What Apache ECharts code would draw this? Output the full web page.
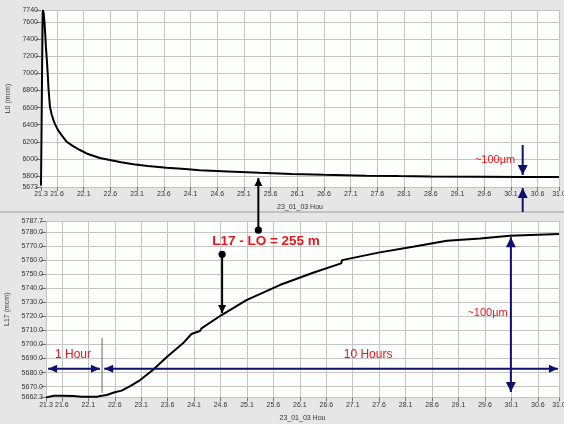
<!DOCTYPE html>
<html>
<head>
<meta charset="utf-8">
<script src="https://cdn.jsdelivr.net/npm/echarts@6/dist/echarts.min.js"></script>
<style>html,body{margin:0;padding:0;background:#e6e6e6;}#c{width:564px;height:424px;}</style>
</head>
<body>
<div id="c"></div>
<script>
// ---- data ----
const hourTicks = [21.3, 21.6, 22.1, 22.6, 23.1, 23.6, 24.1, 24.6, 25.1, 25.6, 26.1, 26.6, 27.1, 27.6, 28.1, 28.6, 29.1, 29.6, 30.1, 30.6, 31.0];
const l0Ticks = [5673, 5800, 6000, 6200, 6400, 6600, 6800, 7000, 7200, 7400, 7600, 7740];
const l17Ticks = [5662.3, 5670, 5680, 5690, 5700, 5710, 5720, 5730, 5740, 5750, 5760, 5770, 5780, 5787.7];

const l0Hours = [21.30, 21.31, 21.32, 21.33, 21.337, 21.35, 21.365, 21.38, 21.393, 21.41, 21.425, 21.44, 21.456, 21.468, 21.50, 21.53, 21.56, 21.60, 21.655, 21.72, 21.78, 21.90, 22.03, 22.18, 22.20, 22.40, 22.59, 22.80, 23.03, 23.30, 23.65, 24.00, 24.27, 24.80, 25.39, 26.00, 26.60, 27.39, 28.00, 28.60, 29.50, 30.30, 31.00];
const l0Values = [5690, 6300, 7000, 7600, 7740, 7700, 7600, 7450, 7300, 7150, 7000, 6830, 6700, 6607, 6520, 6460, 6410, 6360, 6304, 6250, 6202, 6150, 6105, 6058, 6042, 6012, 5988, 5962, 5938, 5918, 5898, 5882, 5868, 5855, 5840, 5826, 5815, 5805, 5800, 5796, 5793, 5791, 5790];

const l17Hours = [21.30, 21.31, 21.45, 21.60, 21.82, 21.97, 22.15, 22.28, 22.32, 22.45, 22.60, 22.73, 22.90, 23.08, 23.32, 23.59, 23.89, 24.05, 24.21, 24.24, 24.62, 25.09, 25.72, 26.35, 26.88, 26.90, 27.61, 28.24, 28.88, 29.51, 30.07, 31.00];
const l17Values = [5662.4, 5663.2, 5663.5, 5663.5, 5663.4, 5662.8, 5662.8, 5662.9, 5663.4, 5664.1, 5666.0, 5667.2, 5670.5, 5674.7, 5681.8, 5691.3, 5700.8, 5707.4, 5709.5, 5711.4, 5720.9, 5731.5, 5742.2, 5750.9, 5757.6, 5759.9, 5765.4, 5769.4, 5773.6, 5775.3, 5777.2, 5778.4];

const FONT = 'Liberation Sans';
const chart = echarts.init(document.getElementById('c'), null, {renderer: 'canvas'});

function xAxisCfg(gridIndex) {
  return {
    type: 'value', gridIndex: gridIndex, min: 21.3, max: 31.0,
    name: '23_01_03 Hou', nameLocation: 'middle', nameGap: 17,
    nameTextStyle: {fontFamily: FONT, fontSize: 7, color: '#333'},
    axisLine: {show: false},
    axisTick: {show: true, length: 4, lineStyle: {color: '#777'}, customValues: hourTicks},
    axisLabel: {fontFamily: FONT, fontSize: 7, color: '#333', margin: 4, customValues: hourTicks,
      formatter: v => (+v).toFixed(1)},
    splitLine: {show: true, lineStyle: {color: '#c4c4c4', width: 1}}
  };
}
function yAxisCfg(gridIndex, name, min, max, ticks, dec) {
  return {
    type: 'value', gridIndex: gridIndex, min: min, max: max,
    name: name, nameLocation: 'middle', nameGap: gridIndex === 0 ? 27 : 33,
    nameTextStyle: {fontFamily: FONT, fontSize: 7, color: '#333'},
    axisLine: {show: false},
    axisTick: {show: true, length: 5, lineStyle: {color: '#777'}, customValues: ticks},
    axisLabel: {fontFamily: FONT, fontSize: 7, color: '#333', margin: 3, customValues: ticks,
      formatter: v => (+v).toFixed(dec)},
    splitLine: {show: true, lineStyle: {color: '#c4c4c4', width: 1}}
  };
}

chart.setOption({
  animation: false,
  backgroundColor: '#e6e6e6',
  grid: [
    {left: 41, top: 10, width: 518, height: 177, show: true, backgroundColor: '#fdfffd', borderWidth: 0,
      containLabel: false, outerBoundsMode: 'none'},
    {left: 46, top: 221, width: 513, height: 176.5, show: true, backgroundColor: '#fdfffd', borderWidth: 0,
      containLabel: false, outerBoundsMode: 'none'}
  ],
  xAxis: [xAxisCfg(0), xAxisCfg(1)],
  yAxis: [
    yAxisCfg(0, 'L0 (mcm)', 5673, 7740, l0Ticks, 0),
    yAxisCfg(1, 'L17 (mcm)', 5662.3, 5787.7, l17Ticks, 1)
  ],
  series: [
    {type: 'line', xAxisIndex: 0, yAxisIndex: 0, showSymbol: false, symbol: 'none',
      lineStyle: {color: '#000', width: 2}, data: l0Hours.map((h, i) => [h, l0Values[i]])},
    {type: 'line', xAxisIndex: 1, yAxisIndex: 1, showSymbol: false, symbol: 'none',
      lineStyle: {color: '#000', width: 2}, data: l17Hours.map((h, i) => [h, l17Values[i]])}
  ]
});

// ---- annotations (data coordinates) ----
const NAVY = '#10106e', RED = '#e8141c';
const P = (g, h, v) => chart.convertToPixel({gridIndex: g}, [h, v]);
const els = [];
els.push({type: 'rect', shape: {x: 0, y: 211, width: 564, height: 2}, style: {fill: '#c2c2c2'}, z: 1});

function arrow(a, b, color, width, hl, hw, both) {
  els.push({type: 'line', shape: {x1: a[0], y1: a[1], x2: b[0], y2: b[1]}, style: {stroke: color, lineWidth: width}, z: 20});
  const head = (from, to) => {
    const dx = to[0] - from[0], dy = to[1] - from[1], L = Math.hypot(dx, dy);
    const ux = dx / L, uy = dy / L;
    const bx = to[0] - ux * hl, by = to[1] - uy * hl;
    els.push({type: 'polygon', shape: {points: [[to[0], to[1]], [bx - uy * hw, by + ux * hw], [bx + uy * hw, by - ux * hw]]},
      style: {fill: color}, z: 21});
  };
  head(a, b);
  if (both) head(b, a);
}
function dot(p) {
  els.push({type: 'circle', shape: {cx: p[0], cy: p[1], r: 3.6}, style: {fill: '#000'}, z: 22});
}
function text(p, s, size, align, weight) {
  els.push({type: 'text', x: p[0], y: p[1], style: {text: s, fill: RED, fontFamily: FONT, fontSize: size,
    fontWeight: weight || 'normal', align: align, verticalAlign: 'middle'}, z: 23});
}

// top panel ~100um arrows
arrow(P(0, 30.32, 6163), P(0, 30.32, 5813), NAVY, 2, 10, 5, false);
arrow(P(0, 30.32, 5381), P(0, 30.32, 5661), NAVY, 2, 10, 5, false);
text(P(0, 30.18, 5988), '~100µm', 11, 'right');

// L17 - L0 arrows
const tipTop = P(0, 25.37, 5778);
const dot1 = [tipTop[0], P(1, 25.37, 5781.2)[1]];
arrow(dot1, tipTop, '#000', 2, 8, 4, false);
dot(dot1);
const dot2 = P(1, 24.63, 5764.0);
arrow(dot2, P(1, 24.63, 5722.3), '#000', 2, 8, 4, false);
dot(dot2);
text(P(1, 25.46, 5773.0), 'L17 - LO = 255 m', 13.5, 'center', 'bold');

// bottom panel
text(P(1, 21.81, 5692.5), '1 Hour', 12, 'center');
text(P(1, 27.39, 5692.5), '10 Hours', 12, 'center');
arrow(P(1, 21.34, 5682.8), P(1, 22.32, 5682.8), NAVY, 2, 9, 4, true);
arrow(P(1, 22.40, 5682.8), P(1, 30.98, 5682.8), NAVY, 2, 9, 4, true);
const g1 = P(1, 22.36, 5704.6), g2 = P(1, 22.36, 5665.6);
els.push({type: 'line', shape: {x1: g1[0], y1: g1[1], x2: g2[0], y2: g2[1]}, style: {stroke: '#666', lineWidth: 1}, z: 19});
arrow(P(1, 30.09, 5776.2), P(1, 30.09, 5666.2), NAVY, 2, 10, 5, true);
text(P(1, 30.03, 5722.3), '~100µm', 11, 'right');

chart.setOption({graphic: els});
</script>
</body>
</html>
